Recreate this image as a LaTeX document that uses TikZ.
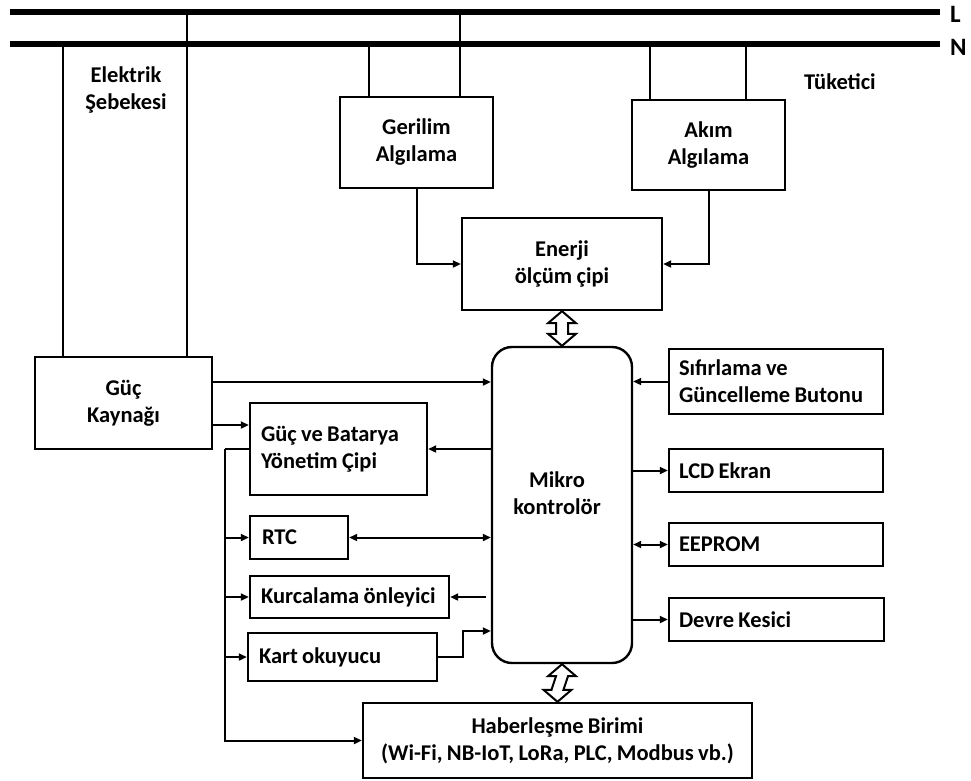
\documentclass[tikz,border=0pt]{standalone}
\usepackage{fontspec}
\setmainfont{Carlito}[WordSpace=0.85]
\usetikzlibrary{arrows.meta,calc}
\newcommand{\fsz}{\fontsize{22.5}{27}\selectfont\bfseries}
\newcommand{\dblarr}[2]{%
  \draw[dbl] (#1) -- ++(14,12) -- ++(-8,0) -- ($(#2)+(6,-12)$) -- ++(8,0) -- (#2)
    -- ++(-14,-12) -- ++(8,0) -- ($(#1)+(-6,12)$) -- ++(-8,0) -- cycle;}
\begin{document}
\begin{tikzpicture}[x=1pt,y=-1pt,
  box/.style={draw,line width=2.4pt,inner sep=0pt,font=\fsz,align=center},
  txt/.style={font=\fsz,align=center,inner sep=0pt},
  ltxt/.style={font=\fsz,align=left,inner sep=0pt,anchor=west},
  ln/.style={line width=2pt},
  arr/.style={ln,-{Triangle[length=8pt,width=7pt]}},
  barr/.style={ln,{Triangle[length=8pt,width=7pt]}-{Triangle[length=8pt,width=7pt]}},
  bus/.style={line width=6.5pt},
  dbl/.style={line width=2pt,fill=white,line join=miter}]
\useasboundingbox (0,0) rectangle (971,780);

% buses
\coordinate (Ls) at (10,12);
\coordinate (Le) at (940,12);
\coordinate (Ns) at (10,44);
\coordinate (Ne) at (940,44);
\draw[bus] (Ls) -- (Le);
\draw[bus] (Ns) -- (Ne);
\node[txt,anchor=west,font=\fontsize{25}{30}\selectfont\bfseries] (Llb) at (950,14) {L};
\node[txt,anchor=west,font=\fontsize{25}{30}\selectfont\bfseries] (Nlb) at (950,47) {N};

\node[txt] (grid) at (126,90) {Elektrik\\Şebekesi};
\node[txt] (cons) at (840,82) {Tüketici};

% boxes
\node[box,minimum width=153,minimum height=91] (gv) at (416.5,142.5) {Gerilim\\Algılama};
\node[box,minimum width=153,minimum height=90] (ak) at (708.5,145) {Akım\\Algılama};
\node[box,minimum width=200,minimum height=92] (en) at (562,264) {Enerji\\ölçüm çipi};
\node[box,minimum width=177,minimum height=92] (gk) at (123.5,403) {Güç\\Kaynağı};
\node[box,minimum width=177,minimum height=92] (gvb) at (338.5,449) {};
\node[ltxt] (gvbt) at ([xshift=12pt]gvb.west) {Güç ve Batarya\\Yönetim Çipi};
\node[box,minimum width=98,minimum height=43] (rtc) at (299,537.5) {};
\node[ltxt] (rtct) at ([xshift=13pt]rtc.west) {RTC};
\node[box,minimum width=199,minimum height=42] (ku) at (349.5,597) {};
\node[ltxt] (kut) at ([xshift=12pt]ku.west) {Kurcalama önleyici};
\node[box,minimum width=189,minimum height=48] (ko) at (342.5,657) {};
\node[ltxt] (kot) at ([xshift=12pt]ko.west) {Kart okuyucu};
\node[box,minimum width=389,minimum height=75] (hb) at (557.5,740.5) {Haberleşme Birimi\\(Wi-Fi, NB-IoT, LoRa, PLC, Modbus vb.)};
\node[draw,line width=2.4pt,rounded corners=20pt,minimum width=140,minimum height=316,inner sep=0pt] (mc) at (562,505) {};
\node[txt] (mct) at (557,493) {Mikro\\kontrolör};
\node[box,minimum width=214,minimum height=65] (sf) at (776,381.5) {};
\node[ltxt] (sft) at ([xshift=11pt]sf.west) {Sıfırlama ve\\Güncelleme Butonu};
\node[box,minimum width=214,minimum height=43] (lcd) at (776,470.5) {};
\node[ltxt] (lcdt) at ([xshift=11pt]lcd.west) {LCD Ekran};
\node[box,minimum width=214,minimum height=43] (ee) at (776,544.5) {};
\node[ltxt] (eet) at ([xshift=11pt]ee.west) {EEPROM};
\node[box,minimum width=215,minimum height=43] (dk) at (776.5,619.5) {};
\node[ltxt] (dkt) at ([xshift=11pt]dk.west) {Devre Kesici};

% mains connections
\coordinate (gkN) at (63,44);
\coordinate (gkL) at (187,12);
\draw[ln] (gkN) -- (gkN |- gk.north);
\draw[ln] (gkL) -- (gkL |- gk.north);
\coordinate (gvN) at (369,44);
\coordinate (gvL) at (460,12);
\draw[ln] (gvN) -- (gvN |- gv.north);
\draw[ln] (gvL) -- (gvL |- gv.north);
\coordinate (akN1) at (650,44);
\coordinate (akN2) at (746,44);
\draw[ln] (akN1) -- (akN1 |- ak.north);
\draw[ln] (akN2) -- (akN2 |- ak.north);

% sensing to energy chip
\draw[arr] (gv.south) |- (en.west);
\draw[arr] (ak.south) |- (en.east);

% double arrows
\dblarr{en.south}{mc.north}
\dblarr{mc.south}{hb.north}

% right side
\draw[arr] (sf.west) -- (sf.west -| mc.east);
\draw[arr] (lcd.west -| mc.east) -- (lcd.west);
\draw[barr] (ee.west -| mc.east) -- (ee.west);
\draw[arr] (dk.west -| mc.east) -- (dk.west);

% left side
\draw[arr] ([yshift=21pt]gk.east) -- ([yshift=21pt]gk.east -| mc.west);
\draw[arr] ([yshift=-22pt]gk.east) -- ([yshift=-22pt]gk.east -| gvb.west);
\draw[arr] (gvb.east -| mc.west) -- (gvb.east);
\coordinate (bx) at (225,449);
\draw[ln] (gvb.west) -- (bx);
\draw[arr] (bx) |- (hb.west);
\draw[arr] (bx |- rtc.west) -- (rtc.west);
\draw[arr] (bx |- ku.west) -- (ku.west);
\draw[arr] (bx |- ko.west) -- (ko.west);
\draw[barr] (rtc.east) -- (rtc.east -| mc.west);
\draw[arr] ([xshift=-5pt]ku.east -| mc.west) -- (ku.east);
\coordinate (kb) at (463,631);
\draw[arr] (ko.east) -| (kb) -- (kb -| mc.west);
\end{tikzpicture}
\end{document}
